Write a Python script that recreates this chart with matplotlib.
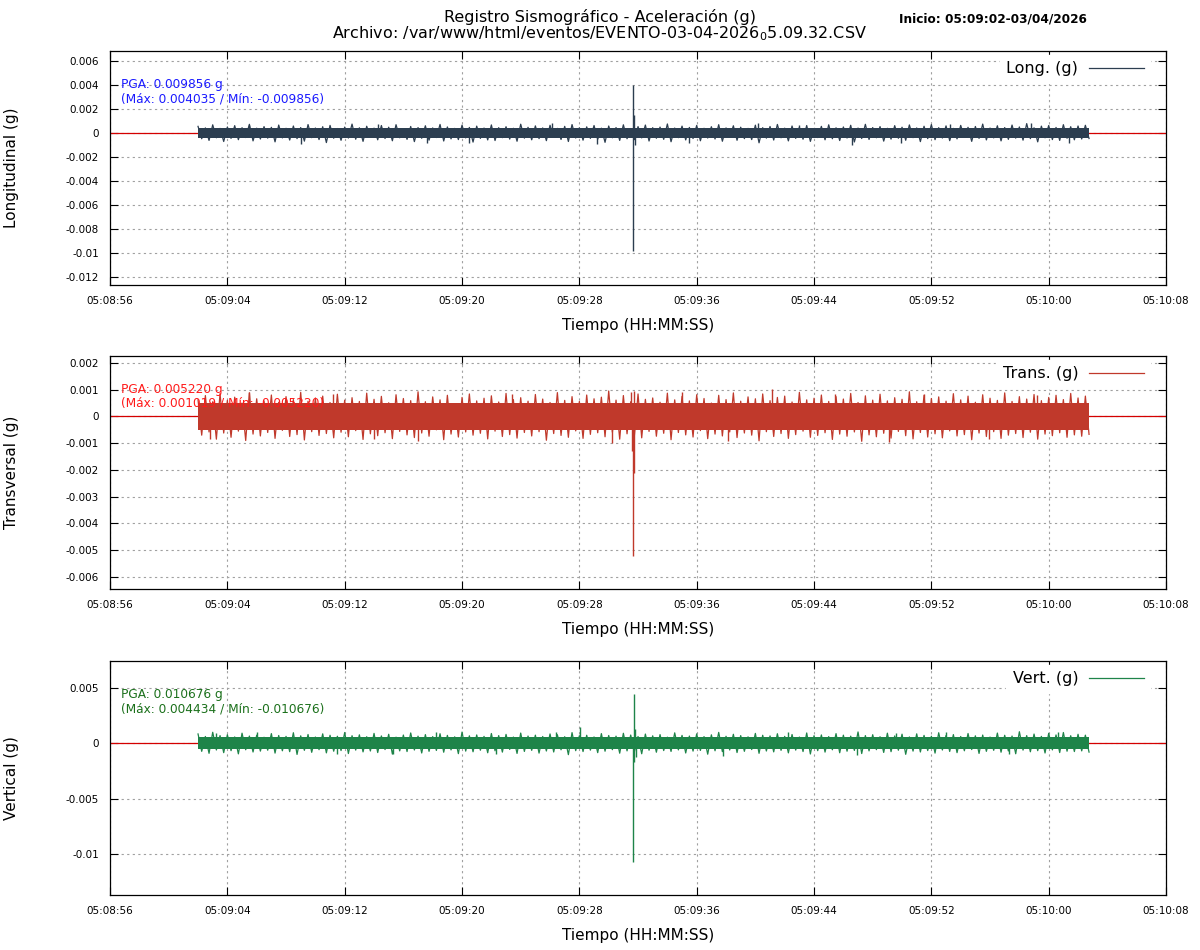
import matplotlib
matplotlib.use("Agg")
import matplotlib.pyplot as plt
import matplotlib.dates as mdates
from matplotlib.lines import Line2D
import numpy as np
import pandas as pd

# ---- data (acceleration in mg) ----
start_str = "2026-04-03 05:09:02"
xmin_str = "2026-04-03 05:08:56"
xmax_str = "2026-04-03 05:10:08"

# dense body of the noise band (+/- mg) for each channel
long_core = 0.40
trans_core = 0.50
vert_core = 0.55

# noise tips every 0.5 s: upward tips and downward tips (mg)
long_up = [0.55, 0.42, 0.68, 0.38, 0.50, 0.61, 0.44, 0.72, 0.40, 0.53, 0.47, 0.66, 0.39, 0.58, 0.45, 0.70, 0.41, 0.52, 0.63, 0.37,
           0.49, 0.74, 0.43, 0.56, 0.40, 0.62, 0.48, 0.69, 0.36, 0.54, 0.45, 0.60, 0.42, 0.71, 0.50, 0.38, 0.65, 0.46, 0.57, 0.41,
           0.67, 0.44, 0.52, 0.39, 0.73, 0.47, 0.59, 0.42, 0.64, 0.38, 0.55, 0.70, 0.43, 0.51, 0.62, 0.40, 0.58, 0.45, 0.68, 0.37,
           0.53, 0.66, 0.44, 0.49, 0.75, 0.41, 0.57, 0.46, 0.63, 0.39, 0.52, 0.69, 0.42, 0.60, 0.48, 0.38, 0.65, 0.44, 0.54, 0.71,
           0.40, 0.58, 0.47, 0.62, 0.36, 0.55, 0.68, 0.43, 0.50, 0.64, 0.41, 0.72, 0.45, 0.53, 0.39, 0.61, 0.48, 0.67, 0.42, 0.56,
           0.70, 0.44, 0.59, 0.38, 0.63, 0.47, 0.54, 0.74, 0.41, 0.60, 0.45, 0.66, 0.50, 0.78, 0.43, 0.57, 0.62, 0.46, 0.69, 0.52,
           0.58, 0.64]
long_dn = [-0.48, -0.62, -0.40, -0.71, -0.45, -0.56, -0.38, -0.66, -0.50, -0.43, -0.74, -0.41, -0.59, -0.47, -0.68, -0.39, -0.55, -0.80, -0.44, -0.61,
           -0.42, -0.52, -0.70, -0.37, -0.57, -0.46, -0.65, -0.40, -0.53, -0.72, -0.44, -0.60, -0.38, -0.67, -0.49, -0.55, -0.41, -0.76, -0.45, -0.58,
           -0.63, -0.39, -0.51, -0.69, -0.43, -0.57, -0.47, -0.64, -0.36, -0.54, -0.71, -0.42, -0.60, -0.45, -0.52, -0.78, -0.40, -0.62, -0.48, -0.56,
           -0.41, -0.67, -0.44, -0.53, -0.73, -0.39, -0.58, -0.46, -0.65, -0.42, -0.50, -0.69, -0.37, -0.61, -0.47, -0.55, -0.82, -0.43, -0.59, -0.40,
           -0.66, -0.45, -0.52, -0.70, -0.38, -0.57, -0.48, -0.63, -0.42, -0.75, -0.46, -0.54, -0.40, -0.68, -0.51, -0.44, -0.61, -0.39, -0.72, -0.47,
           -0.56, -0.42, -0.64, -0.49, -0.37, -0.70, -0.45, -0.58, -0.41, -0.66, -0.53, -0.43, -0.60, -0.47, -0.74, -0.40, -0.55, -0.62, -0.44, -0.57,
           -0.50, -0.46]

trans_up = [0.62, 0.78, 0.55, 0.85, 0.60, 0.72, 0.50, 0.88, 0.66, 0.58, 0.80, 0.53, 0.74, 0.63, 0.90, 0.57, 0.69, 0.76, 0.52, 0.83,
            0.61, 0.70, 0.56, 0.87, 0.64, 0.75, 0.51, 0.81, 0.67, 0.59, 0.92, 0.55, 0.73, 0.62, 0.79, 0.48, 0.71, 0.84, 0.58, 0.68,
            0.77, 0.54, 0.86, 0.63, 0.70, 0.57, 0.82, 0.65, 0.52, 0.89, 0.60, 0.74, 0.56, 0.80, 0.66, 0.72, 0.95, 0.61, 0.78, 0.55,
            0.84, 0.64, 0.69, 0.53, 0.87, 0.62, 0.75, 0.58, 0.81, 0.67, 0.50, 0.79, 0.63, 0.88, 0.57, 0.73, 0.66, 0.84, 0.59, 0.71,
            0.76, 0.54, 0.90, 0.62, 0.68, 0.80, 0.56, 0.74, 0.65, 0.86, 0.52, 0.77, 0.61, 0.83, 0.58, 0.70, 0.64, 0.92, 0.55, 0.79,
            0.67, 0.73, 0.57, 0.85, 0.62, 0.76, 0.53, 0.81, 0.68, 0.60, 0.88, 0.56, 0.74, 0.65, 0.82, 0.59, 0.71, 0.79, 0.63, 0.86,
            0.69, 0.76]
trans_dn = [-0.70, -0.58, -0.85, -0.62, -0.78, -0.55, -0.90, -0.66, -0.73, -0.60, -0.82, -0.52, -0.75, -0.68, -0.88, -0.57, -0.71, -0.64, -0.80, -0.59,
            -0.76, -0.53, -0.86, -0.65, -0.72, -0.61, -0.83, -0.56, -0.69, -0.79, -0.62, -0.74, -0.50, -0.87, -0.66, -0.77, -0.58, -0.70, -0.63, -0.84,
            -0.55, -0.75, -0.68, -0.81, -0.60, -0.73, -0.57, -0.89, -0.64, -0.71, -0.78, -0.54, -0.82, -0.67, -0.61, -0.76, -0.59, -0.85, -0.65, -0.72,
            -0.80, -0.56, -0.74, -0.63, -0.87, -0.60, -0.69, -0.77, -0.53, -0.83, -0.66, -0.73, -0.58, -0.79, -0.62, -0.70, -0.91, -0.57, -0.75, -0.64,
            -0.82, -0.68, -0.55, -0.78, -0.71, -0.61, -0.86, -0.66, -0.74, -0.58, -0.93, -0.69, -0.76, -0.63, -0.81, -0.56, -0.72, -0.84, -0.60, -0.77,
            -0.65, -0.80, -0.54, -0.73, -0.68, -0.87, -0.62, -0.75, -0.57, -0.82, -0.70, -0.64, -0.79, -0.59, -0.85, -0.66, -0.72, -0.61, -0.78, -0.69,
            -0.74, -0.67]

vert_up = [0.85, 0.62, 1.00, 0.70, 0.78, 0.58, 0.92, 0.66, 0.74, 0.55, 0.88, 0.71, 0.63, 0.96, 0.68, 0.80, 0.57, 0.86, 0.73, 0.64,
           0.98, 0.69, 0.77, 0.60, 0.90, 0.67, 0.82, 0.56, 0.75, 0.94, 0.65, 0.79, 0.61, 0.87, 0.72, 0.59, 1.02, 0.68, 0.76, 0.63,
           0.89, 0.70, 0.81, 0.57, 0.93, 0.66, 0.74, 0.62, 0.85, 0.78, 0.60, 0.97, 0.69, 0.73, 0.58, 0.88, 0.71, 0.65, 0.91, 0.75,
           0.62, 0.84, 0.68, 0.79, 0.56, 0.95, 0.72, 0.66, 0.86, 0.61, 0.77, 0.99, 0.64, 0.82, 0.70, 0.59, 0.90, 0.73, 0.67, 0.87,
           0.63, 0.80, 0.57, 0.94, 0.69, 0.76, 0.61, 0.88, 0.74, 0.65, 1.03, 0.70, 0.78, 0.60, 0.92, 0.67, 0.83, 0.58, 0.86, 0.72,
           0.64, 0.96, 0.71, 0.79, 0.62, 0.89, 0.68, 0.75, 0.57, 0.93, 0.73, 0.66, 1.05, 0.70, 0.84, 0.63, 0.91, 0.76, 0.98, 0.69,
           0.82, 0.74]
vert_dn = [-0.72, -0.90, -0.60, -0.84, -0.66, -0.95, -0.58, -0.78, -0.70, -0.62, -0.88, -0.67, -0.75, -1.00, -0.63, -0.81, -0.57, -0.86, -0.71, -0.65,
           -0.92, -0.61, -0.77, -0.69, -0.83, -0.56, -0.97, -0.68, -0.74, -0.60, -0.87, -0.72, -0.64, -0.80, -0.59, -0.93, -0.70, -0.76, -0.62, -0.85,
           -0.67, -0.79, -0.55, -0.91, -0.73, -0.63, -0.88, -0.69, -0.78, -0.58, -1.02, -0.66, -0.74, -0.61, -0.84, -0.71, -0.57, -0.89, -0.68, -0.76,
           -0.94, -0.62, -0.80, -0.65, -0.73, -0.59, -0.87, -0.70, -0.64, -0.98, -0.67, -0.75, -0.60, -0.83, -0.72, -0.56, -0.90, -0.69, -0.77, -0.63,
           -0.86, -0.61, -0.74, -0.96, -0.66, -0.79, -0.58, -0.85, -0.71, -0.64, -0.92, -0.68, -0.57, -0.82, -0.75, -0.62, -0.99, -0.70, -0.78, -0.65,
           -0.88, -0.60, -0.73, -0.84, -0.67, -0.56, -0.91, -0.72, -0.63, -0.80, -0.69, -0.94, -0.61, -0.76, -0.66, -0.87, -0.59, -0.83, -0.71, -0.74,
           -0.68, -0.79]

# isolated excursions: seconds after start, value in mg
long_event_t = [29.65, 29.67, 29.75, 29.8, 3.5, 7.0, 12.3, 15.6, 18.5, 24.1, 27.2, 33.5, 38.2, 41.0,
                44.6, 47.9, 51.3, 56.8, 59.4]
long_event_v = [-9.856, 4.035, 1.5, -1.0, 0.7, -0.9, 0.75, -0.8, -0.85, 0.8, -0.9, -0.8, 0.8, 0.7,
                -1.0, -0.85, 0.75, 0.8, -0.8]
trans_event_t = [29.65, 29.7, 29.6, 29.75, 29.55, 28.2, 39.15, 0.8, 3.5, 9.2, 12.0, 15.0, 21.4, 33.0,
                 36.1, 43.4, 47.1, 49.5, 53.9, 57.2]
trans_event_v = [-5.22, -2.1, -1.3, 0.95, 0.9, -1.0, 1.019, -0.85, 0.9, 0.85, -0.85, -0.9, 0.85, 0.9,
                 -0.9, 0.85, -0.95, 0.85, -0.85, 0.8]
vert_event_t = [29.65, 29.7, 29.8, 29.75, 29.85, 26.07, 1.2, 4.0, 9.5, 13.3, 16.2, 20.3, 24.4, 35.8,
                40.2, 44.9, 47.6, 51.0, 55.3, 58.6]
vert_event_v = [-10.676, 4.434, 1.3, -1.7, -1.2, 1.5, 0.95, 1.0, -1.0, -0.95, 1.05, -1.0, 1.0, -1.1,
                1.0, -1.05, 0.95, 1.0, -1.0, 1.05]

channels = ["Long. (g)", "Trans. (g)", "Vert. (g)"]
ylabels = ["Longitudinal (g)", "Transversal (g)", "Vertical (g)"]
pga_text = ["PGA: 0.009856 g\n(Máx: 0.004035 / Mín: -0.009856)",
            "PGA: 0.005220 g\n(Máx: 0.001019 / Mín: -0.005220)",
            "PGA: 0.010676 g\n(Máx: 0.004434 / Mín: -0.010676)"]
yticks = [[0.006, 0.004, 0.002, 0, -0.002, -0.004, -0.006, -0.008, -0.01, -0.012],
          [0.002, 0.001, 0, -0.001, -0.002, -0.003, -0.004, -0.005, -0.006],
          [0.005, 0, -0.005, -0.01]]
ylims = [(-0.01267, 0.00683), (-0.00645, 0.00226), (-0.0137, 0.00744)]

trace_colors = ["#2c3e50", "#c0392b", "#1e8449"]
text_colors = ["#1a1aff", "#ff1a1a", "#1b701b"]

cores = [long_core, trans_core, vert_core]
ups = [long_up, trans_up, vert_up]
dns = [long_dn, trans_dn, vert_dn]
event_ts = [long_event_t, trans_event_t, vert_event_t]
event_vs = [long_event_v, trans_event_v, vert_event_v]

# ---- figure ----
plt.rcParams['font.family'] = ['DejaVu Sans']
fig = plt.figure(figsize=(12, 9.5), dpi=100)

t0 = pd.Timestamp(start_str)
xticks = pd.date_range(xmin_str, xmax_str, freq="8s").to_numpy()

# axes boxes in figure fractions (left, bottom, width, height)
boxes = [(0.0917, 0.700, 0.880, 0.2463),
         (0.0917, 0.380, 0.880, 0.2453),
         (0.0917, 0.0579, 0.880, 0.2463)]

for i in range(3):
    ax = fig.add_axes(boxes[i])
    color = trace_colors[i]
    up = np.array(ups[i]) * 1e-3
    dn = np.array(dns[i]) * 1e-3
    t_up = pd.date_range(t0, periods=len(up), freq="500ms")
    t_dn = t_up + pd.Timedelta("250ms")
    # trace goes up-tip, down-tip, up-tip, ...
    trace_t = np.column_stack([t_up.to_numpy(), t_dn.to_numpy()]).ravel()
    trace_v = np.column_stack([up, dn]).ravel()
    core = cores[i] * 1e-3
    ev_t = (t0 + pd.to_timedelta(event_ts[i], unit="s")).to_numpy()
    ev_v = np.array(event_vs[i]) * 1e-3

    ax.axhline(0, color="#d40000", lw=0.9, zorder=2)
    ax.fill_between([t_up[0], t_dn[-1]], -core, core, color=color, lw=0, zorder=3)
    ax.plot(trace_t, trace_v, color=color, lw=0.9, zorder=3)
    ax.vlines(ev_t, 0, ev_v, color=color, lw=1.0, zorder=3)

    ax.set_xlim(pd.Timestamp(xmin_str), pd.Timestamp(xmax_str))
    ax.set_xticks(xticks)
    ax.xaxis.set_major_formatter(mdates.DateFormatter("%H:%M:%S"))
    ax.set_ylim(*ylims[i])
    ax.set_yticks(yticks[i])
    ax.set_yticklabels(["%g" % v for v in yticks[i]])

    ax.grid(True, color="#a0a0a0", linestyle=(0, (2, 3)), lw=0.8, zorder=1)
    ax.set_axisbelow(True)
    ax.tick_params(direction="in", top=True, right=True, length=6, width=0.8,
                   labelsize=7.5, pad=8)
    for s in ax.spines.values():
        s.set_linewidth(0.9)

    ax.set_xlabel("Tiempo (HH:MM:SS)", fontsize=11)
    ax.xaxis.set_label_coords(0.5, -0.14)
    ax.set_ylabel(ylabels[i], fontsize=11)
    ax.yaxis.set_label_coords(-0.086, 0.5)

    ax.text(0.0104, 0.885, pga_text[i], transform=ax.transAxes, ha="left", va="top",
            fontsize=8.7, color=text_colors[i], linespacing=1.12, zorder=5)

    handle = Line2D([], [], color=color, lw=0.9)
    leg = ax.legend([handle], [channels[i]], loc="upper right", bbox_to_anchor=(0.9886, 1.0),
                    markerfirst=False, fontsize=11.5, handlelength=3.4, frameon=True,
                    fancybox=False, borderaxespad=0.25, handletextpad=0.7)
    leg.get_frame().set_edgecolor("white")
    leg.get_frame().set_facecolor("white")
    leg.get_frame().set_alpha(1.0)
    leg.set_zorder(6)

fig.text(0.5, 0.991, "Registro Sismográfico - Aceleración (g)\n"
         "Archivo: /var/www/html/eventos/EVENTO-03-04-2026$_0$5.09.32.CSV",
         ha="center", va="top", fontsize=11.5, linespacing=1.0)
fig.text(0.8275, 0.980, "Inicio: 05:09:02-03/04/2026", ha="center", va="center",
         fontsize=8.7, fontweight="bold")

fig.savefig("out.png", dpi=100)
